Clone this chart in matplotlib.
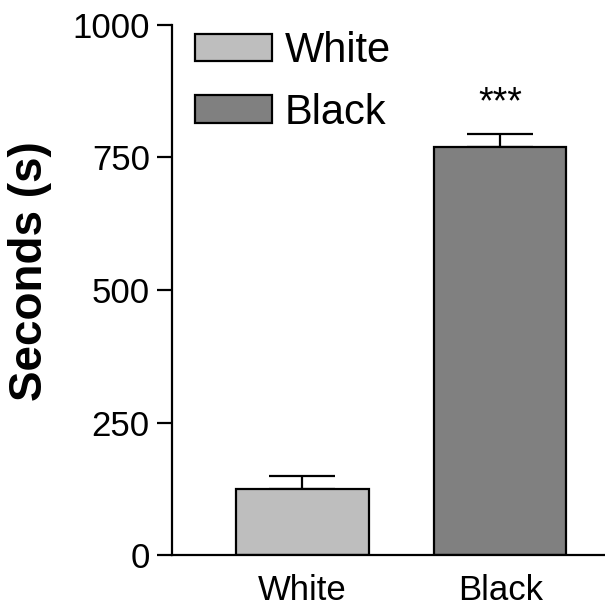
import matplotlib
matplotlib.use("Agg")
import matplotlib.pyplot as plt
from matplotlib.patches import Patch

categories = ["White", "Black"]
means = [124, 769]
sems = [25, 25]
colors = ["#bebebe", "#808080"]
yticks = [0, 250, 500, 750, 1000]
ylabel = "Seconds (s)"
sig_label = "***"

plt.rcParams['font.family'] = ['Liberation Sans', 'DejaVu Sans']

fig = plt.figure(figsize=(6.05, 6.14), dpi=100)
ax = fig.add_axes([172/605, 59/614, 1 - 172/605, 530/614])

x = list(range(len(categories)))
ax.bar(x, means, width=0.667, color=colors, edgecolor="black", linewidth=1.6, zorder=2)
ax.errorbar(x, means, yerr=[[0]*len(sems), sems], fmt="none", ecolor="black",
            elinewidth=1.6, capsize=23.5, capthick=1.6, zorder=1)

ax.text(1, means[1] + sems[1] + 25, sig_label, ha="center", va="bottom", fontsize=27)

ax.set_xlim(-0.659, 1.528)
ax.set_ylim(0, 1000)
ax.set_yticks(yticks)
ax.set_yticklabels([str(v) for v in yticks], fontsize=25)
ax.set_xticks(x)
ax.set_xticklabels(categories, fontsize=25)
ax.tick_params(axis="y", length=11, width=1.6, pad=5, direction="out")
ax.tick_params(axis="x", length=0, pad=14)

for s in ["top", "right"]:
    ax.spines[s].set_visible(False)
for s in ["left", "bottom"]:
    ax.spines[s].set_linewidth(1.6)

ax.set_ylabel(ylabel, fontsize=33, fontweight="bold", va="center")
ax.yaxis.set_label_coords(-0.327, 0.535)

handles = [Patch(facecolor=c, edgecolor="black", linewidth=1.6) for c in colors]
leg = ax.legend(handles, categories, loc="upper left",
                bbox_to_anchor=(195/605, 1 - 31/614), bbox_transform=fig.transFigure,
                frameon=False, fontsize=30, handlelength=1.85, handleheight=0.64,
                handletextpad=0.3, labelspacing=0.52, borderpad=0, borderaxespad=0)

fig.savefig("out.png", dpi=100)
